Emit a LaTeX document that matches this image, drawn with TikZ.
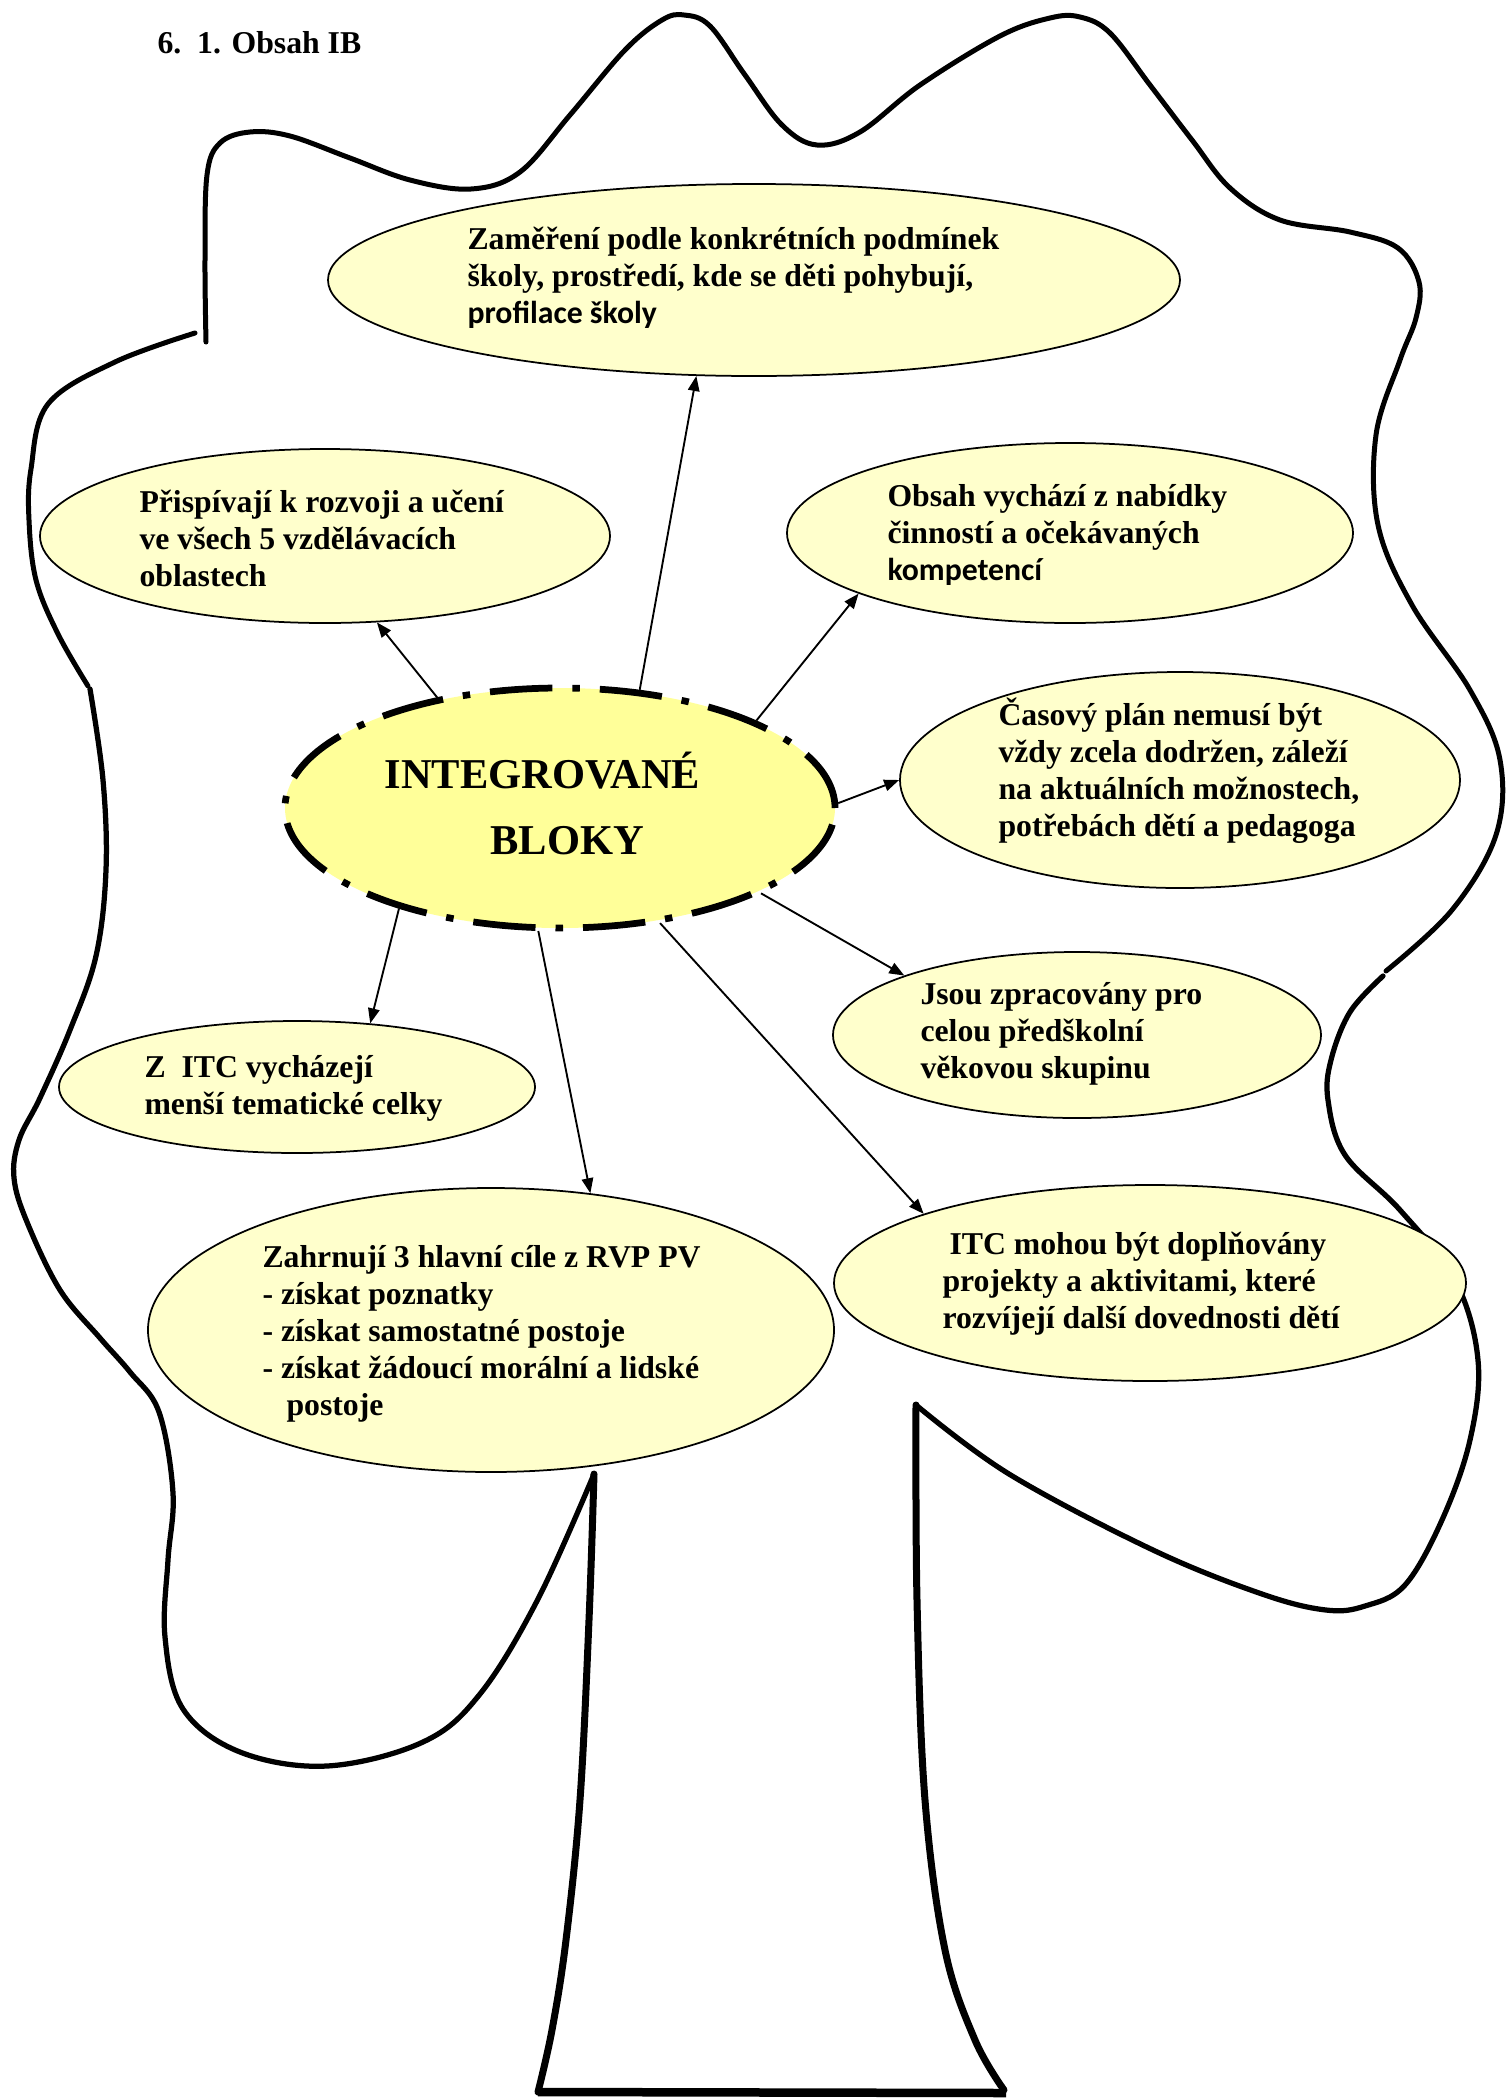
\documentclass[tikz,border=0pt]{standalone}
\usepackage{fontspec}
\setmainfont{Liberation Serif}
\newfontfamily\calibfont{Carlito}
\usetikzlibrary{arrows.meta,shapes.geometric}
\definecolor{palefill}{HTML}{FFFFCC}
\definecolor{corefill}{HTML}{FFFF99}
\tikzset{
  bubble/.style={ellipse, draw=black, line width=0.7pt, fill=palefill, inner sep=0pt},
  core/.style={ellipse, draw=black, line width=2.7pt, fill=corefill, inner sep=0pt,
    dash pattern=on 25pt off 8pt on 3pt off 8pt},
  txt/.style={anchor=base west, inner sep=0pt, font=\fontsize{12.7}{14.8}\selectfont\bfseries},
  conn/.style={line width=0.75pt, -{Triangle[length=6pt,width=4.6pt]}},
  outline/.style={line width=2pt, line cap=round, line join=round},
  trunkline/.style={line width=2.8pt, line cap=round, line join=round},
}
\begin{document}
\begin{tikzpicture}[x=0.4pt,y=-0.4pt]
\useasboundingbox (0,0) rectangle (1507,2100);

% ---- tree outline ----
\draw[outline] plot[smooth, tension=0.6] coordinates {
 (206,342) (205,260) (207,175) (220,143) (250,132) (290,136) (350,158) (410,180)
 (471,189) (520,172) (570,115) (625,50) (662,20) (684,15) (710,26) (745,75)
 (782,125) (817,145) (860,132) (920,85) (1000,36) (1050,18) (1080,17) (1110,33)
 (1150,85) (1192,140) (1230,188) (1280,220) (1350,232) (1398,248) (1419,282)
 (1416,318) (1400,360) (1376,435) (1378,525) (1412,605) (1470,690) (1500,760)
 (1496,835) (1452,910) (1386,971)};
\draw[outline, line width=2.1pt] plot[smooth, tension=0.6] coordinates {
 (1383,976) (1350,1012) (1331,1060) (1328,1100) (1345,1155) (1400,1210)
 (1455,1280) (1478,1360) (1470,1440) (1442,1520) (1405,1585) (1365,1606)
 (1326,1610) (1262,1594) (1153,1550) (1009,1474) (916,1405)};
\draw[trunkline] plot[smooth, tension=0.6] coordinates {
 (916,1405) (917,1600) (925,1800) (945,1950) (975,2040) (1004,2090)};
\draw[line width=3.4pt] (1006,2093) -- (538,2092);
\draw[trunkline] plot[smooth, tension=0.6] coordinates {
 (538,2092) (552,2030) (566,1940) (580,1800) (589,1620) (594,1474)};
\draw[outline, line width=2.1pt] plot[smooth, tension=0.6] coordinates {
 (594,1474) (538,1599) (480,1694) (423,1742) (327,1766) (240,1752) (183,1709)
 (165,1637) (168,1560) (173,1493) (159,1412) (130,1372) (100,1338) (60,1290)
 (27,1222) (14,1178) (19,1140) (40,1098) (70,1030) (96,956) (106,870)
 (103,780) (90,689)};
\draw[outline] plot[smooth, tension=0.6] coordinates {
 (88,686) (58,634) (36,580) (29,520) (31,469) (48,404) (115,362) (195,333)};

% ---- title ----
\node[txt] (title) at (157,53) {6.\ \ 1. Obsah IB};

% ---- ellipses ----
\node[bubble, minimum width=340.8pt, minimum height=76.8pt] (e1) at (754,280) {};
\node[bubble, minimum width=228pt, minimum height=69.6pt] (e2) at (325,536) {};
\node[bubble, minimum width=226.4pt, minimum height=72pt] (e3) at (1070,533) {};
\node[bubble, minimum width=224pt, minimum height=86.4pt] (e5) at (1180,780) {};
\node[bubble, minimum width=195.2pt, minimum height=66.4pt] (e6) at (1077,1035) {};
\node[bubble, minimum width=190.4pt, minimum height=52.8pt] (e7) at (297,1087) {};
\node[bubble, minimum width=274.4pt, minimum height=113.6pt] (e8) at (491,1330) {};
\node[bubble, minimum width=252.8pt, minimum height=78.4pt] (e9) at (1150,1283) {};
\node[core, minimum width=220pt, minimum height=96pt] (c) at (560,808) {};

% ---- texts ----
\node[txt, anchor=base west, font=\fontsize{17}{26.4}\selectfont\bfseries] (ct) at (384,788)
 {\begin{tabular}[t]{@{}l@{}}INTEGROVANÉ\\\hspace*{42.4pt}BLOKY\end{tabular}};
\node[txt] (t1) at (467,249) {\begin{tabular}[t]{@{}l@{}}Zaměření podle konkrétních podmínek\\školy, prostředí, kde se děti pohybují,\\{\calibfont\bfseries profilace školy}\end{tabular}};
\node[txt] (t2) at (139,512) {\begin{tabular}[t]{@{}l@{}}Přispívají k rozvoji a učení\\ve všech 5 vzdělávacích\\oblastech\end{tabular}};
\node[txt] (t3) at (887,506) {\begin{tabular}[t]{@{}l@{}}Obsah vychází z nabídky\\činností a očekávaných\\{\calibfont\bfseries kompetencí}\end{tabular}};
\node[txt] (t5) at (998,725) {\begin{tabular}[t]{@{}l@{}}Časový plán nemusí být\\vždy zcela dodržen, záleží\\na aktuálních možnostech,\\potřebách dětí a pedagoga\end{tabular}};
\node[txt] (t6) at (920,1004) {\begin{tabular}[t]{@{}l@{}}Jsou zpracovány pro\\celou předškolní\\věkovou skupinu\end{tabular}};
\node[txt] (t7) at (144,1077) {\begin{tabular}[t]{@{}l@{}}Z\ \ ITC vycházejí\\menší tematické celky\end{tabular}};
\node[txt] (t8) at (262,1267) {\begin{tabular}[t]{@{}l@{}}Zahrnují 3 hlavní cíle z RVP PV\\- získat poznatky\\- získat samostatné postoje\\- získat žádoucí morální a lidské\\\hspace*{9.6pt}postoje\end{tabular}};
\node[txt] (t9) at (942,1254) {\begin{tabular}[t]{@{}l@{}}\hspace*{2.8pt}ITC mohou být doplňovány\\projekty a aktivitami, které\\rozvíjejí další dovednosti dětí\end{tabular}};

% ---- connectors ----
\draw[conn] (c.56.9) -- (e1.-121.2);
\draw[conn] (c.138.7) -- (e2.-59.7);
\draw[conn] (c.24.4) -- (e3.196.2);
\draw[conn] (c.1.0) -- (e5.180.8);
\draw[conn] (c.-23.4) -- (e6.161.1);
\draw[conn] (c.-49.4) -- (e9.163.9);
\draw[conn] (c.-100.7) -- (e8.54.9);
\draw[conn] (c.-148.6) -- (e7.41.1);
\end{tikzpicture}
\end{document}
